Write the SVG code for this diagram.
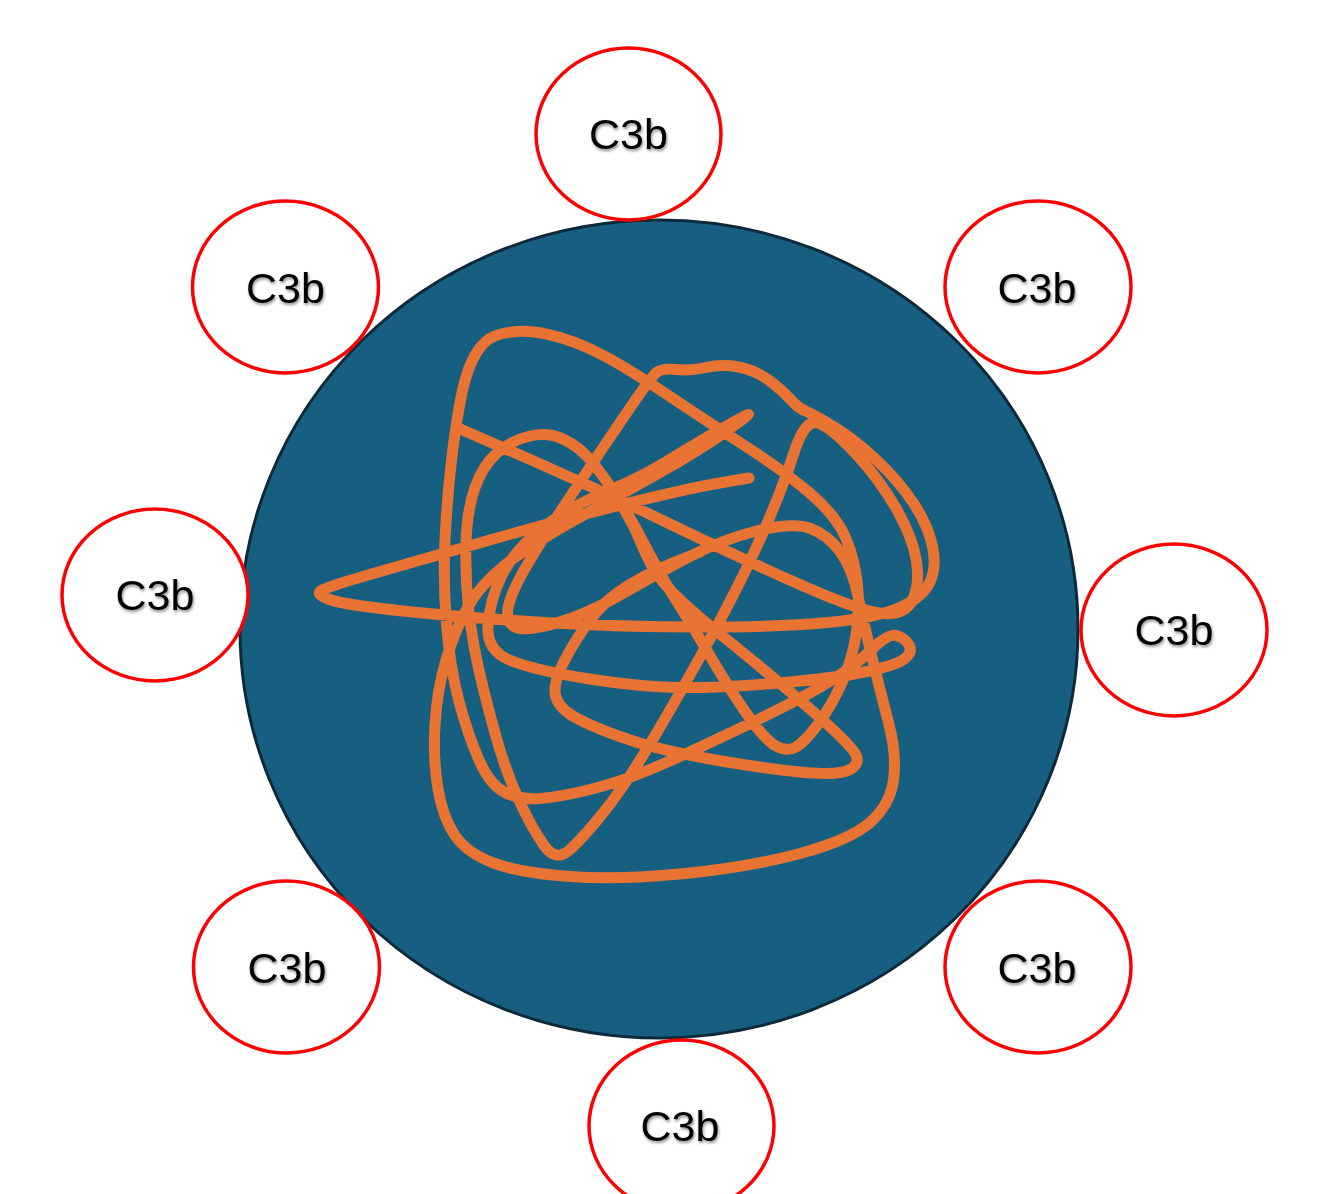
<svg xmlns="http://www.w3.org/2000/svg" width="1321" height="1194" viewBox="0 0 1321 1194">
  <defs>
    <filter id="soft-shadow" x="-20%" y="-30%" width="140%" height="160%">
      <feDropShadow dx="1" dy="2" stdDeviation="1.5" flood-color="#000" flood-opacity="0.45"/>
    </filter>
    <style>
      .cell { fill: #175f80; stroke: #0e2a3a; stroke-width: 3; }
      .tangle { fill: none; stroke: #e87332; stroke-width: 11; stroke-linecap: round; stroke-linejoin: round; }
      .c3b { fill: #ffffff; stroke: #ff0000; stroke-width: 3.5; }
      .lbl { font-family: "Liberation Sans", Arial, sans-serif; font-size: 43px; fill: #000; text-anchor: middle; filter: url(#soft-shadow); }
    </style>
  </defs>
  <rect width="1321" height="1194" fill="#ffffff"/>

  <!-- central cell with tangled strand -->
  <g id="cell">
    <ellipse class="cell" cx="659" cy="629" rx="419" ry="409"/>
    <path class="tangle" d="M749,478 L719.5,483 Q690,488 625,504 Q560,520 490,540 Q420,560 375,573 Q330,586 322,590 Q314,594 329.5,599.5 Q345,605 407.5,611.5 Q470,618 545,622.5 Q620,627 700,627 Q780,627 827.5,622.5 Q875,618 898.5,608 Q922,598 929.5,583 Q937,568 932.5,546.5 Q928,525 913,502.5 Q898,480 876.5,460 Q855,440 835,427.5 Q815,415 806.5,411.5 Q798,408 790,399 Q782,390 768.5,380 Q755,370 738.5,367 Q722,364 706,367.5 Q690,371 676,369.5 Q662,368 656.5,372.5 Q651,377 625.5,414.5 Q600,452 574,491 Q548,530 530,560 Q512,590 508.5,606 Q505,622 515,627 Q525,632 555,623.5 Q585,615 617.5,596.5 Q650,578 685,559 Q720,540 756.5,531 Q793,522 810.5,528.5 Q828,535 840,551.5 Q852,568 857.5,594 Q863,620 871.5,655 Q880,690 888.5,722.5 Q897,755 893.5,780 Q890,805 870,822.5 Q850,840 800,853.5 Q750,867 685,873.5 Q620,880 570,876.5 Q520,873 493.5,863 Q467,853 455,835.5 Q443,818 438,789 Q433,760 435,725 Q437,690 446,660 Q455,630 467.5,607.5 Q480,585 505,565 Q530,545 575,520 Q620,495 660,472.5 Q700,450 728,430 Q756,410 745.5,415.5 Q735,421 712.5,434 Q690,447 665,462.5 Q640,478 603.5,493 Q567,508 540,530 Q513,552 501.5,576 Q490,600 488,625 Q486,650 509.5,660 Q533,670 586.5,678.5 Q640,687 680,687.5 Q720,688 778.5,683 Q837,678 867,671.5 Q897,665 905,658.5 Q913,652 909,645 Q905,638 896.5,635.5 Q888,633 870.5,650.5 Q853,668 823,685.5 Q793,703 736.5,730 Q680,757 650,769.5 Q620,782 590,789.5 Q560,797 540,798.5 Q520,800 505,792.5 Q490,785 479,760 Q468,735 459,701.5 Q450,668 446.5,624 Q443,580 445,540 Q447,500 451,465 Q455,430 460,402.5 Q465,375 472.5,360 Q480,345 489,339 Q498,333 516.5,331.5 Q535,330 560,337.5 Q585,345 610,359 Q635,373 670,396.5 Q705,420 746,446.5 Q787,473 812,495 Q837,517 846,538.5 Q855,560 857.5,585 Q860,610 856,635 Q852,660 842,682.5 Q832,705 818.5,723.5 Q805,742 796,747 Q787,752 776,746 Q765,740 747.5,715 Q730,690 712.5,660 Q695,630 677.5,602.5 Q660,575 646,547.5 Q632,520 618.5,499 Q605,478 592.5,462.5 Q580,447 564,439.5 Q548,432 530,436 Q512,440 497.5,452.5 Q483,465 475,487.5 Q467,510 466,542.5 Q465,575 468.5,607.5 Q472,640 479.5,672.5 Q487,705 497,740 Q507,775 520,802.5 Q533,830 544.5,846 Q556,862 569.5,850 Q583,838 605,810.5 Q627,783 656,734 Q685,685 713.5,632.5 Q742,580 762,535 Q782,490 793.5,454 Q805,418 818.5,423 Q832,428 856,454 Q880,480 896.5,509 Q913,538 916.5,561.5 Q920,585 912.5,600 Q905,615 883.5,613.5 Q862,612 801,585 Q740,558 670,524 Q600,490 529,459 L458,428"/>
    <path class="tangle" d="M700,552 L675,562 Q650,572 627.5,586 Q605,600 590,620 Q575,640 563.5,662.5 Q552,685 556,697.5 Q560,710 580,720 Q600,730 630,740 Q660,750 710,759 Q760,768 800,772 Q840,776 851,769 Q862,762 853.5,751 Q845,740 822.5,720 Q800,700 770,675 Q740,650 715,630 Q690,610 672.5,592.5 Q655,575 645,552 L634,527 L619,500"/>
  </g>

  <!-- C3b fragments around the cell -->
  <g id="c3b-top">
    <ellipse class="c3b" cx="628.5" cy="134" rx="92.5" ry="86"/>
    <text class="lbl" x="628.5" y="149">C3b</text>
  </g>
  <g id="c3b-top-left">
    <ellipse class="c3b" cx="285.5" cy="287" rx="93" ry="86"/>
    <text class="lbl" x="285.5" y="303">C3b</text>
  </g>
  <g id="c3b-top-right">
    <ellipse class="c3b" cx="1038" cy="287" rx="93" ry="86"/>
    <text class="lbl" x="1037" y="303">C3b</text>
  </g>
  <g id="c3b-left">
    <ellipse class="c3b" cx="155" cy="595" rx="93" ry="86"/>
    <text class="lbl" x="155" y="610">C3b</text>
  </g>
  <g id="c3b-right">
    <ellipse class="c3b" cx="1174" cy="630" rx="93" ry="86"/>
    <text class="lbl" x="1174" y="645">C3b</text>
  </g>
  <g id="c3b-bottom-left">
    <ellipse class="c3b" cx="286.5" cy="967" rx="93" ry="86"/>
    <text class="lbl" x="287" y="983">C3b</text>
  </g>
  <g id="c3b-bottom-right">
    <ellipse class="c3b" cx="1038" cy="967" rx="93" ry="86"/>
    <text class="lbl" x="1037" y="983">C3b</text>
  </g>
  <g id="c3b-bottom">
    <ellipse class="c3b" cx="681.5" cy="1126" rx="92.5" ry="86"/>
    <text class="lbl" x="680" y="1141">C3b</text>
  </g>

  <!-- no connectors in this figure -->
  <g id="connectors"/>
</svg>
